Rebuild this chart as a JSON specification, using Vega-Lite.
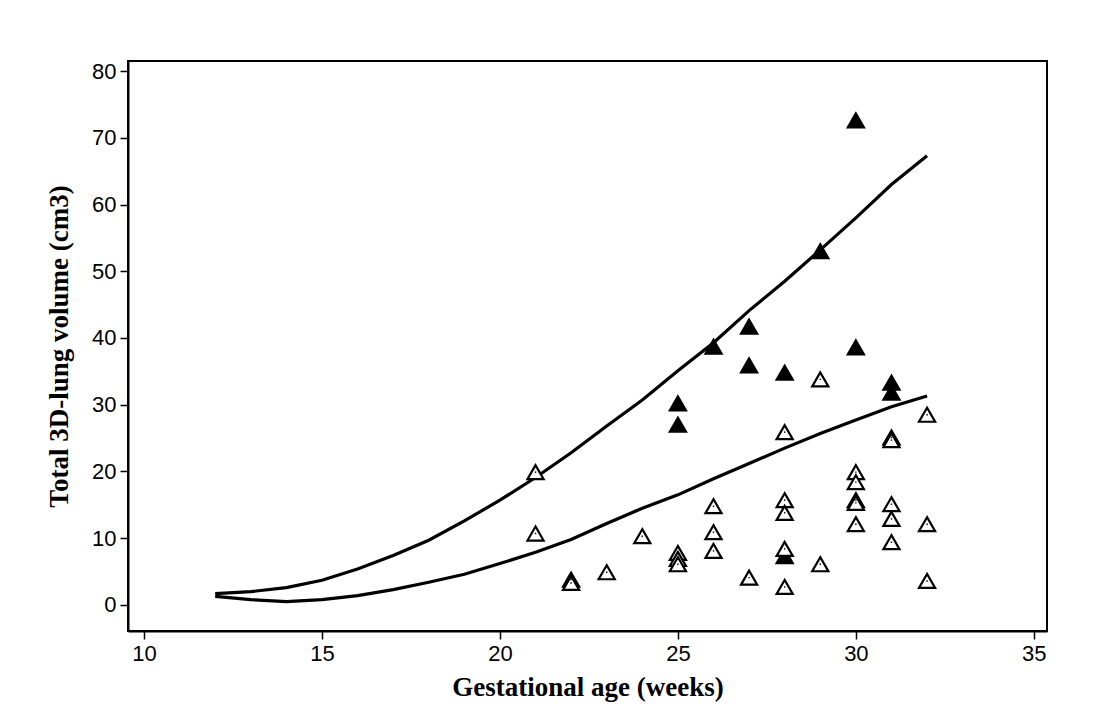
{
  "$schema": "https://vega.github.io/schema/vega-lite/v6.json",
  "autosize": "none",
  "width": 919,
  "height": 570,
  "padding": {"left": 128, "top": 61, "right": 47, "bottom": 95},
  "background": "white",
  "config": {
    "view": {"stroke": "black", "strokeWidth": 2},
    "axis": {
      "domainColor": "black", "domainWidth": 2, "tickColor": "black", "tickWidth": 1.5, "tickSize": 8,
      "labelFont": "Liberation Sans", "labelFontSize": 22, "labelColor": "black", "labelPadding": 4,
      "titleFont": "Liberation Serif", "titleFontSize": 27, "titleFontWeight": "bold", "titleColor": "black",
      "grid": false
    }
  },
  "datasets": {
    "curves": [
      {"ga": 12, "v": 1.7, "curve": "upper"}, {"ga": 13, "v": 2.0, "curve": "upper"}, {"ga": 14, "v": 2.6, "curve": "upper"},
      {"ga": 15, "v": 3.7, "curve": "upper"}, {"ga": 16, "v": 5.4, "curve": "upper"}, {"ga": 17, "v": 7.4, "curve": "upper"},
      {"ga": 18, "v": 9.7, "curve": "upper"}, {"ga": 19, "v": 12.6, "curve": "upper"}, {"ga": 20, "v": 15.7, "curve": "upper"},
      {"ga": 21, "v": 19.1, "curve": "upper"}, {"ga": 22, "v": 22.8, "curve": "upper"}, {"ga": 23, "v": 26.8, "curve": "upper"},
      {"ga": 24, "v": 30.7, "curve": "upper"}, {"ga": 25, "v": 35.1, "curve": "upper"}, {"ga": 26, "v": 39.3, "curve": "upper"},
      {"ga": 27, "v": 44.1, "curve": "upper"}, {"ga": 28, "v": 48.5, "curve": "upper"}, {"ga": 29, "v": 53.2, "curve": "upper"},
      {"ga": 30, "v": 58.0, "curve": "upper"}, {"ga": 31, "v": 63.0, "curve": "upper"}, {"ga": 32, "v": 67.3, "curve": "upper"},
      {"ga": 12, "v": 1.3, "curve": "lower"}, {"ga": 13, "v": 0.8, "curve": "lower"}, {"ga": 14, "v": 0.5, "curve": "lower"},
      {"ga": 15, "v": 0.8, "curve": "lower"}, {"ga": 16, "v": 1.4, "curve": "lower"}, {"ga": 17, "v": 2.3, "curve": "lower"},
      {"ga": 18, "v": 3.4, "curve": "lower"}, {"ga": 19, "v": 4.6, "curve": "lower"}, {"ga": 20, "v": 6.2, "curve": "lower"},
      {"ga": 21, "v": 7.9, "curve": "lower"}, {"ga": 22, "v": 9.8, "curve": "lower"}, {"ga": 23, "v": 12.2, "curve": "lower"},
      {"ga": 24, "v": 14.5, "curve": "lower"}, {"ga": 25, "v": 16.5, "curve": "lower"}, {"ga": 26, "v": 18.9, "curve": "lower"},
      {"ga": 27, "v": 21.2, "curve": "lower"}, {"ga": 28, "v": 23.5, "curve": "lower"}, {"ga": 29, "v": 25.7, "curve": "lower"},
      {"ga": 30, "v": 27.7, "curve": "lower"}, {"ga": 31, "v": 29.7, "curve": "lower"}, {"ga": 32, "v": 31.3, "curve": "lower"}
    ],
    "points": [
      {"ga": 25, "v": 30.2, "group": "filled"}, {"ga": 25, "v": 27.0, "group": "filled"},
      {"ga": 26, "v": 38.7, "group": "filled"},
      {"ga": 27, "v": 41.7, "group": "filled"}, {"ga": 27, "v": 35.9, "group": "filled"},
      {"ga": 28, "v": 34.8, "group": "filled"}, {"ga": 28, "v": 7.3, "group": "filled"},
      {"ga": 29, "v": 53.0, "group": "filled"},
      {"ga": 30, "v": 72.6, "group": "filled"}, {"ga": 30, "v": 38.6, "group": "filled"},
      {"ga": 31, "v": 33.3, "group": "filled"}, {"ga": 31, "v": 31.8, "group": "filled"},
      {"ga": 21, "v": 19.9, "group": "open"}, {"ga": 21, "v": 10.7, "group": "open"},
      {"ga": 22, "v": 3.8, "group": "open"}, {"ga": 22, "v": 3.3, "group": "open"},
      {"ga": 23, "v": 4.9, "group": "open"}, {"ga": 24, "v": 10.3, "group": "open"},
      {"ga": 25, "v": 7.8, "group": "open"}, {"ga": 25, "v": 6.9, "group": "open"}, {"ga": 25, "v": 6.1, "group": "open"},
      {"ga": 26, "v": 14.8, "group": "open"}, {"ga": 26, "v": 10.9, "group": "open"}, {"ga": 26, "v": 8.1, "group": "open"},
      {"ga": 27, "v": 4.1, "group": "open"},
      {"ga": 28, "v": 25.9, "group": "open"}, {"ga": 28, "v": 15.7, "group": "open"}, {"ga": 28, "v": 13.8, "group": "open"},
      {"ga": 28, "v": 8.4, "group": "open"}, {"ga": 28, "v": 2.7, "group": "open"},
      {"ga": 29, "v": 33.8, "group": "open"}, {"ga": 29, "v": 6.1, "group": "open"},
      {"ga": 30, "v": 19.9, "group": "open"}, {"ga": 30, "v": 18.4, "group": "open"}, {"ga": 30, "v": 15.7, "group": "open"},
      {"ga": 30, "v": 15.3, "group": "open"}, {"ga": 30, "v": 12.1, "group": "open"},
      {"ga": 31, "v": 25.1, "group": "open"}, {"ga": 31, "v": 24.7, "group": "open"}, {"ga": 31, "v": 15.1, "group": "open"},
      {"ga": 31, "v": 12.9, "group": "open"}, {"ga": 31, "v": 9.4, "group": "open"},
      {"ga": 32, "v": 28.5, "group": "open"}, {"ga": 32, "v": 12.1, "group": "open"}, {"ga": 32, "v": 3.6, "group": "open"}
    ]
  },
  "layer": [
    {
      "data": {"name": "curves"},
      "mark": {"type": "line", "color": "black", "strokeWidth": 3.2, "clip": true},
      "encoding": {
        "x": {"field": "ga", "type": "quantitative", "scale": {"domain": [9.55, 35.37], "nice": false, "zero": false},
              "axis": {"values": [10, 15, 20, 25, 30, 35], "title": "Gestational age (weeks)", "titlePadding": 10}},
        "y": {"field": "v", "type": "quantitative", "scale": {"domain": [-3.9, 81.5], "nice": false, "zero": false},
              "axis": {"values": [0, 10, 20, 30, 40, 50, 60, 70, 80], "title": "Total 3D-lung volume (cm3)", "titlePadding": 18}},
        "detail": {"field": "curve", "type": "nominal"}
      }
    },
    {
      "data": {"name": "points"},
      "mark": {"type": "point", "shape": "triangle-up", "size": 260, "strokeWidth": 2.2, "stroke": "black", "opacity": 1, "filled": true},
      "encoding": {
        "x": {"field": "ga", "type": "quantitative"},
        "y": {"field": "v", "type": "quantitative"},
        "fill": {"field": "group", "type": "nominal", "scale": {"domain": ["filled", "open"], "range": ["black", "white"]}, "legend": null}
      }
    },
    {
      "data": {"name": "points"},
      "transform": [{"filter": "datum.group == 'open'"}],
      "mark": {"type": "point", "shape": "square", "size": 2, "filled": true, "color": "black", "opacity": 1},
      "encoding": {
        "x": {"field": "ga", "type": "quantitative"},
        "y": {"field": "v", "type": "quantitative"}
      }
    }
  ]
}
